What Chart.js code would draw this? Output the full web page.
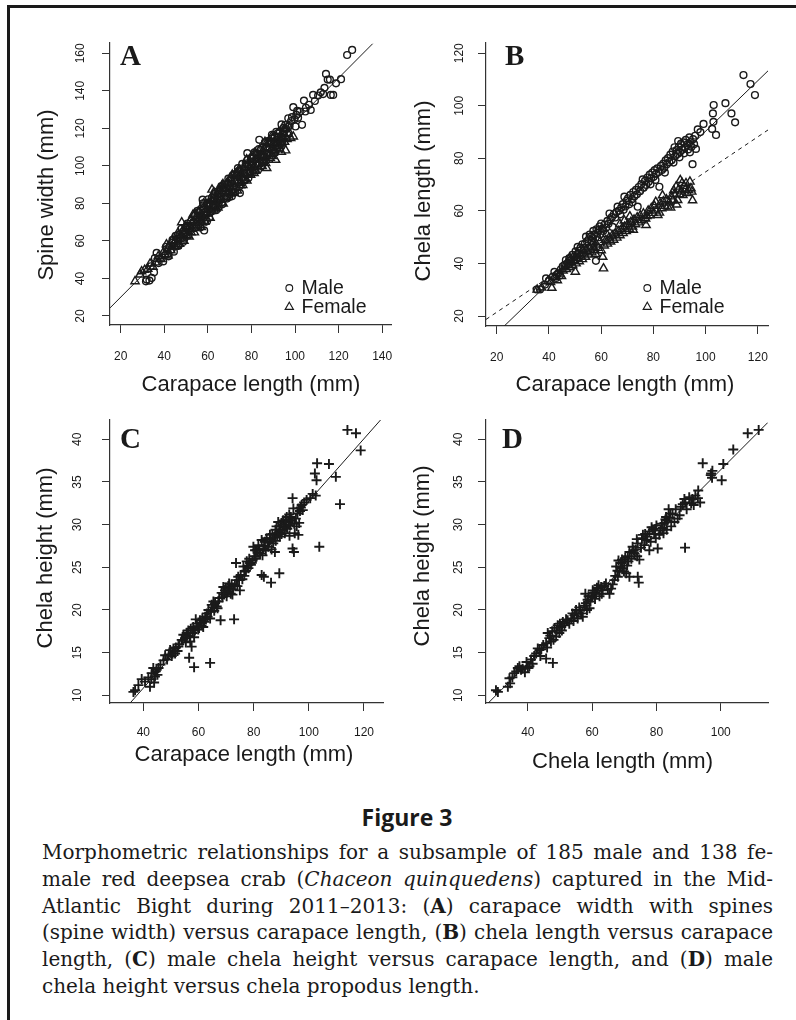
<!DOCTYPE html>
<html>
<head>
<meta charset="utf-8">
<script src="https://cdn.jsdelivr.net/npm/chart.js@4.4.1/dist/chart.umd.min.js"></script>
<style>
  body { margin: 0; background: #fff; width: 796px; height: 1020px; position: relative; overflow: hidden; }
  .rule-top { position: absolute; left: 7px; top: 5px; width: 789px; height: 3px; background: #1a1a1a; }
  .rule-left { position: absolute; left: 7px; top: 5px; width: 3px; height: 1015px; background: #1a1a1a; }
  canvas { position: absolute; }
  #figTitle { position: absolute; left: 307px; top: 802px; width: 200px; text-align: center;
    font: bold 23px "Open Sans", sans-serif; line-height: 30px; color: #1a1a1a; }
  #caption { position: absolute; left: 42px; top: 839px; width: 731px; color: #1a1a1a;
    font-family: "DejaVu Serif", serif; font-size: 20px; line-height: 26.8px; }
  #caption .ln { text-align: justify; text-align-last: justify; white-space: nowrap; }
  #caption .last { white-space: nowrap; }
</style>
</head>
<body>
<div class="rule-top"></div>
<div class="rule-left"></div>
<canvas id="pA" width="398" height="400" style="left:0;top:0"></canvas>
<canvas id="pB" width="398" height="400" style="left:398px;top:0"></canvas>
<canvas id="pC" width="398" height="380" style="left:0;top:400px"></canvas>
<canvas id="pD" width="398" height="380" style="left:398px;top:400px"></canvas>
<div id="figTitle">Figure 3</div>
<div id="caption">
  <div class="ln">Morphometric relationships for a subsample of 185 male and 138 fe-</div>
  <div class="ln">male red deepsea crab (<i>Chaceon quinquedens</i>) captured in the Mid-</div>
  <div class="ln">Atlantic Bight during 2011–2013: (<b>A</b>) carapace width with spines</div>
  <div class="ln">(spine width) versus carapace length, (<b>B</b>) chela length versus carapace</div>
  <div class="ln">length, (<b>C</b>) male chela height versus carapace length, and (<b>D</b>) male</div>
  <div class="last">chela height versus chela propodus length.</div>
</div>
<script>
// tick labels
const aXTicks = [20, 40, 60, 80, 100, 120, 140];
const aYTicks = [20, 40, 60, 80, 100, 120, 140, 160];
const bXTicks = [20, 40, 60, 80, 100, 120];
const bYTicks = [20, 40, 60, 80, 100, 120];
const cXTicks = [40, 60, 80, 100, 120];
const cYTicks = [10, 15, 20, 25, 30, 35, 40];
const dXTicks = [40, 60, 80, 100];
const dYTicks = [10, 15, 20, 25, 30, 35, 40];

// A: spine width vs carapace length  [CL, SW]
const aMale = [[31.6,38.5],[31.9,39.4],[33.2,38.9],[34.2,40.3],[35.3,43.3],[33.8,46.5],[35.7,50.9],[36.5,53.6],[37.4,48.2],[38.1,50.6],[39.5,49.1],[40.2,52.4],[41.1,55.7],[41.8,53.1],[42.5,57.3],[43.3,55.4],[44.0,59.2],[44.7,57.0],[40.8,56.9],[42.0,51.8],[43.8,60.6],[44.4,54.3],
  [45.2,62.7],[45.6,57.8],[46.1,61.3],[46.5,57.3],[47.0,63.5],[47.4,61.5],[47.9,66.5],[48.3,61.6],[48.8,63.9],[49.2,61.2],[49.7,67.1],[50.1,64.2],[50.6,69.3],[51.0,62.9],[51.5,68.1],[51.9,65.4],[52.4,70.6],[52.8,68.2],[53.3,70.0],[53.7,66.8],[54.2,73.7],[54.6,67.2],[54.9,71.3],[50.4,67.5],[48.6,59.5],
  [55.3,76.1],[55.7,68.6],[56.1,73.4],[56.5,67.1],[56.9,76.0],[57.3,72.9],[57.8,80.1],[58.2,72.4],[58.6,75.4],[59.0,71.2],[59.4,79.6],[59.8,75.0],[60.2,82.2],[60.6,72.4],[61.0,79.9],[61.4,75.6],[61.8,82.9],[62.2,79.1],[62.6,81.4],[63.0,76.3],[63.4,86.2],[63.8,76.4],[64.2,82.5],[64.6,85.1],[59.6,70.5],[61.9,81.4],[56.2,71.1],[57.6,82.0],[58.3,65.6],[63.2,85.1],
  [55.9,75.3],[57.0,70.4],[58.0,77.6],[59.2,73.8],[60.0,80.3],[60.8,74.9],[62.0,76.1],[62.8,83.3],[63.6,78.6],[64.4,84.6],[65.0,80.2],
  [65.0,78.2],[65.4,86.7],[65.8,82.0],[66.2,89.2],[66.6,79.5],[67.0,86.9],[67.4,82.6],[67.8,89.9],[68.2,86.1],[68.6,88.4],[69.0,83.4],[69.4,93.2],[69.8,83.4],[70.2,89.5],[70.6,92.1],[71.0,83.8],[71.4,94.9],[71.8,87.4],[72.2,92.2],[72.6,85.9],[73.0,94.8],[73.4,91.7],[73.8,98.8],[74.2,91.1],[74.6,94.1],[68.8,82.6],[74.7,85.5],
  [65.6,87.9],[66.4,80.6],[67.6,88.7],[69.2,90.8],[70.0,84.9],[70.8,93.5],[71.6,86.1],[72.4,95.6],[73.2,88.4],[74.0,97.2],[74.4,89.0],
  [75.0,97.2],[75.4,94.0],[75.8,101.1],[76.2,93.5],[76.6,96.4],[77.0,92.2],[77.4,100.7],[77.8,96.0],[78.2,103.2],[78.6,93.5],[79.0,100.9],[79.4,96.6],[79.8,104.0],[80.2,100.1],[80.6,102.4],[81.0,97.4],[81.4,107.2],[81.8,97.4],[82.2,103.5],[82.6,106.1],[83.0,97.8],[83.4,108.9],[83.8,101.4],[84.2,106.2],[84.6,99.9],[79.6,102.0],[82.0,101.2],[84.0,105.4],[78.1,106.8],[83.6,113.9],
  [75.6,98.6],[76.8,92.9],[78.0,101.4],[79.2,95.8],[80.4,104.9],[81.2,98.1],[82.4,106.8],[83.2,100.2],[84.4,108.7],[85.0,102.0],
  [85.2,101.8],[85.4,110.0],[85.8,105.4],[86.2,112.5],[86.6,102.8],[87.0,110.3],[87.4,105.9],[87.8,113.3],[88.2,109.5],[88.6,111.7],[89.0,106.7],[89.4,116.6],[89.8,106.8],[90.2,112.8],[90.6,115.5],[91.0,107.2],[91.4,118.2],[91.8,110.8],[92.2,115.6],[92.6,109.2],[93.0,118.2],[93.4,115.1],[93.8,122.1],[94.2,114.5],[94.6,117.5],[88.4,112.5],[91.6,112.8],[94.0,112.5],
  [86.0,104.6],[87.2,111.9],[88.0,106.2],[89.6,114.6],[90.4,108.7],[92.0,117.3],[93.2,111.6],[94.8,120.4],
  [95.0,118.3],[95.5,121.8],[96.0,119.6],[96.9,125.4],[97.5,121.2],[98.2,123.9],[99.2,131.3],[99.8,124.8],[100.6,127.2],[101.4,125.6],[102.2,128.9],[103.2,121.9],[104.1,134.8],[105.0,131.0],[106.4,132.6],[107.2,129.8],[108.3,137.8],[109.1,134.6],[110.6,137.5],[104.7,129.0],
  [95.8,114.8],[97.0,117.4],[98.6,126.0],[100.2,121.0],[101.0,129.3],
  [111.8,139.2],[112.9,138.3],[114.2,149.0],[115.0,146.0],[116.0,146.0],[116.4,137.8],[117.5,137.8],[118.8,144.0],[121.1,146.2],[123.9,159.1],[126.2,161.8],[113.5,141.6]];
const aFemale = [[26.6,38.5],[28.9,42.1],[29.6,43.8],[31.0,44.6],[32.4,45.1],[33.5,47.9],[34.8,46.2],[36.0,48.5],[37.2,51.8],[38.5,50.3],[39.6,54.0],
  [40.4,52.9],[41.0,58.1],[41.7,52.1],[42.3,57.4],[43.0,55.0],[43.6,60.3],[44.3,58.3],[45.0,60.3],[45.7,57.4],[46.3,64.4],[47.0,58.4],[47.6,62.8],[48.3,65.1],[49.0,60.0],[49.6,67.8],[48.0,69.9],
  [50.2,63.1],[50.8,66.3],[51.4,62.3],[52.0,71.0],[52.6,66.6],[53.2,74.0],[53.8,64.5],[54.4,72.2],[55.0,68.1],[55.6,75.7],[56.2,72.1],[56.8,74.6],[57.4,69.8],[58.0,79.9],[58.6,70.3],[59.2,76.6],[59.8,79.5],[57.0,67.4],[54.0,74.5],[52.3,64.6],
  [60.4,78.4],[61.0,72.3],[61.6,81.5],[62.2,78.6],[62.8,85.9],[63.4,78.5],[64.0,81.7],[64.6,77.7],[65.2,86.4],[65.8,82.0],[66.4,89.4],[67.0,79.9],[67.6,87.6],[68.2,83.5],[68.8,91.1],[69.4,87.5],[70.0,90.0],[63.7,77.2],[66.9,90.3],[61.9,87.3],[69.1,91.0],
  [70.6,85.2],[71.2,95.3],[71.8,85.7],[72.4,92.0],[73.0,94.9],[73.6,86.8],[74.2,98.1],[74.8,90.9],[75.4,95.9],[76.0,89.8],[76.6,99.0],[77.2,96.1],[77.8,103.4],[78.4,96.0],[79.0,99.2],[79.6,95.2],[72.0,85.6],[75.0,89.6],[77.9,92.2],[73.3,95.9],
  [80.2,103.9],[80.8,99.5],[81.4,106.9],[82.0,97.4],[82.6,105.1],[83.2,101.0],[83.8,108.6],[84.4,105.0],[85.0,107.5],[85.6,102.7],[86.2,112.8],[86.8,103.2],[87.4,109.5],[88.0,112.4],[88.6,104.3],[89.2,115.6],[89.8,108.4],[81.2,96.1],[84.9,99.9],[86.5,101.5],[89.5,105.2],[87.0,98.8],
  [90.4,108.1],[91.0,111.9],[91.1,103.2],[91.6,109.4],[92.2,113.0],[92.8,110.6],[93.4,114.2],[94.0,111.9],[94.6,115.1],[95.2,112.8],[95.7,108.2],[96.3,114.3],[97.0,116.9],[98.0,114.8],[99.2,115.6],[93.7,107.4],[90.0,114.9],[92.5,118.0],[95.0,119.6],[96.8,121.5]];
const aFit = [[15.1, 24.3], [135.6, 165.1]];

// B: chela length vs carapace length  [CL, ChL]
const bMale = [[35.3,30.1],[36.6,30.1],[38.5,32.0],[38.9,34.3],[40.0,33.5],[41.5,35.0],[42.8,34.5],[42.1,36.8],[43.5,36.2],[44.2,35.4],[44.6,37.8],[43.0,35.6],
  [45.3,38.9],[46.5,41.3],[46.0,39.5],[47.2,40.1],[47.8,42.0],[48.4,41.2],[49.0,43.3],[49.6,42.5],[50.2,44.6],[51.0,46.3],[51.5,44.9],[52.1,46.0],[52.8,47.3],[53.4,45.8],[54.2,50.2],[54.6,48.4],[53.8,47.6],[50.7,43.4],
  [55.2,49.1],[55.6,51.0],[56.1,50.3],[56.5,48.6],[57.0,52.4],[57.4,50.9],[58.0,41.0],[58.2,53.0],[58.6,51.6],[59.0,52.7],[59.4,54.1],[60.0,55.2],[60.3,53.2],[60.8,52.4],[61.3,54.8],[61.9,53.6],[62.4,56.2],[62.8,55.1],[63.2,59.0],[63.6,56.8],[64.1,57.6],[64.4,53.9],[64.9,58.8],[59.7,51.1],[56.8,49.6],
  [65.4,57.5],[65.9,59.6],[66.3,61.6],[66.8,60.1],[67.3,58.7],[67.7,61.3],[68.3,62.6],[68.9,65.4],[69.3,61.7],[69.8,63.9],[70.3,64.8],[70.7,62.5],[71.2,66.1],[71.8,64.4],[72.3,67.2],[72.7,65.5],[73.3,68.0],[73.7,66.3],[74.0,61.6],[74.4,69.1],[74.9,67.5],[72.0,63.3],[68.6,60.4],
  [75.4,70.2],[75.9,72.0],[76.3,68.8],[76.8,71.4],[77.3,69.9],[77.7,72.7],[78.2,71.1],[78.6,73.8],[79.1,72.4],[79.6,74.6],[80.1,73.0],[80.5,75.5],[81.0,74.1],[81.5,76.2],[82.0,74.8],[82.3,69.2],[82.9,77.1],[83.3,75.6],[83.8,78.0],[84.2,76.4],[84.7,79.2],[80.8,71.8],[78.9,70.1],[84.4,74.6],
  [85.2,77.8],[85.6,80.1],[86.1,78.6],[86.5,81.4],[87.0,79.3],[87.4,82.6],[88.1,84.2],[88.4,80.9],[88.9,83.1],[89.3,81.7],[89.8,84.5],[90.2,82.4],[90.6,85.6],[91.1,83.3],[91.5,86.1],[92.0,84.0],[92.4,87.0],[92.9,85.1],[93.3,83.4],[93.8,88.0],[94.2,86.2],[94.6,84.4],[95.0,77.8],[95.2,87.3],[95.6,85.4],[96.0,88.6],[96.3,83.6],[90.0,80.4],[87.7,78.4],[91.8,81.9],[94.0,82.3],[89.5,86.6],
  [97.0,91.0],[98.0,90.0],[99.2,93.1],[102.5,91.2],[102.8,97.1],[103.0,93.9],[103.1,100.3],[104.0,88.9],[107.6,101.0],[109.9,97.1],[111.3,93.7],[114.5,111.7],[117.2,108.3],[118.9,104.1]];
const bFemale = [[35.5,30.0],[37.2,30.8],[41.1,30.7],[39.5,33.2],[42.0,34.8],[43.2,33.6],[44.1,36.1],[44.8,35.2],[40.6,32.9],
  [45.4,37.3],[46.0,38.9],[46.7,37.8],[47.3,39.6],[47.9,38.5],[48.5,40.4],[49.1,39.3],[49.7,41.2],[50.1,36.8],[50.4,40.0],[51.0,42.1],[51.6,40.8],[52.2,43.0],[52.8,41.6],[53.4,43.8],[54.0,42.5],[54.6,44.6],[53.1,45.0],[50.8,43.6],[48.0,42.2],
  [55.2,43.4],[55.8,45.6],[56.4,44.2],[57.0,46.3],[57.6,45.1],[58.2,47.2],[58.8,45.9],[59.4,48.1],[60.0,45.0],[60.6,42.5],[60.9,38.1],[61.2,46.8],[61.8,48.9],[62.4,47.5],[63.0,49.8],[63.6,48.3],[64.2,50.6],[64.8,49.0],[59.0,49.6],[56.8,47.9],[62.1,51.2],[57.9,43.6],
  [65.4,51.4],[66.0,49.8],[66.6,52.3],[67.2,50.7],[67.2,55.0],[67.8,53.1],[68.4,51.5],[69.0,54.0],[69.6,52.3],[70.2,55.0],[70.8,53.2],[71.4,55.8],[72.0,54.0],[72.3,52.8],[72.6,56.7],[73.2,54.9],[73.8,57.5],[74.4,55.6],[75.0,58.3],[71.0,57.9],[68.9,56.3],
  [75.6,56.4],[76.2,59.0],[76.8,57.2],[77.2,54.6],[77.0,57.1],[77.5,58.0],[78.0,60.1],[78.6,58.3],[79.2,61.0],[79.8,59.2],[80.4,61.9],[81.0,60.1],[81.7,58.4],[82.3,59.3],[82.6,62.8],[83.2,61.0],[83.8,63.6],[84.4,61.9],[85.0,64.4],[85.5,61.6],[80.9,63.4],[83.5,65.9],
  [86.1,63.2],[86.6,61.2],[86.9,65.5],[87.4,63.9],[88.0,66.4],[88.7,69.2],[88.9,62.4],[89.3,64.1],[89.6,68.1],[90.0,66.3],[90.3,71.7],[90.8,67.4],[91.3,66.0],[91.7,69.5],[92.2,68.1],[92.5,70.5],[93.0,66.8],[93.4,68.0],[94.0,71.1],[94.4,68.6],[94.7,67.3],[95.0,64.0],[87.8,67.8],[91.0,70.6]];
const bFitMale = [[22.9, 16.2], [123.9, 113.3]];
const bFitFemale = [[15.9, 18.7], [123.9, 90.8]];

// C: male chela height vs carapace length  [CL, ChH]
const cMale = [[36.4,10.4],[37.0,10.6],[38.2,11.2],[39.4,11.9],[40.6,11.6],[41.8,12.1],[42.4,11.0],[42.9,11.9],[43.0,12.6],[43.6,13.2],[43.9,11.5],[44.2,12.2],[44.5,12.8],[44.8,13.0],[45.1,12.4],[45.5,13.2],[46.2,13.6],[47.3,14.1],[47.9,14.7],[48.6,14.2],[49.2,14.8],[49.7,15.3],[50.3,14.6],[50.6,14.9],[50.9,15.5],[51.5,14.9],[51.8,15.6],[52.4,15.2],[52.7,15.7],[53.0,16.0],
  [53.9,16.5],[54.2,16.4],[54.5,17.1],[55.1,16.7],[55.4,16.2],[55.7,17.3],[56.0,17.0],[56.3,17.6],[56.6,14.4],[56.9,16.9],[57.0,16.3],[57.2,17.8],[57.5,15.7],[57.8,17.3],[58.1,18.0],[58.4,13.3],[58.4,16.8],[58.7,17.6],[59.0,18.9],[59.3,18.4],[59.6,18.1],[59.9,17.7],[60.2,17.9],[60.5,18.8],[60.8,18.5],[61.1,18.2],[61.4,19.0],[61.7,18.0],[62.0,18.6],[62.4,19.2],
  [62.7,18.9],[63.0,19.6],[63.3,19.2],[63.6,20.0],[64.2,19.0],[64.2,13.8],[64.5,19.8],[64.8,20.6],[65.1,20.3],[65.4,21.0],[65.7,19.9],[66.0,20.8],[66.6,20.4],[66.9,20.2],[67.2,21.0],[67.5,21.4],[68.0,18.8],[68.4,22.0],[68.7,21.5],[69.0,22.7],[69.3,21.8],[69.6,22.3],[69.9,22.6],[70.2,21.6],[70.5,22.1],[70.8,22.8],[71.1,23.1],[71.4,22.5],[71.7,21.9],[72.0,23.0],
  [72.3,21.8],[72.6,22.4],[72.9,18.9],[73.2,22.9],[73.6,25.5],[73.8,23.5],[74.1,22.8],[74.4,23.9],[74.7,23.5],[75.0,22.3],[75.3,24.1],[75.9,23.6],[76.3,25.1],[76.6,24.0],[76.8,24.5],[77.2,24.6],[77.5,25.7],[77.8,25.2],[78.1,24.9],[78.4,26.0],[78.7,25.5],[79.0,25.3],[79.6,25.8],[79.9,27.4],[80.2,26.3],[80.5,27.0],[80.8,26.0],[81.1,27.0],[81.4,26.7],[81.7,27.6],
  [82.0,27.1],[82.3,26.6],[82.9,28.2],[82.9,24.1],[83.2,26.4],[83.5,27.2],[83.7,23.9],[83.8,27.5],[84.1,28.0],[84.4,27.0],[84.7,28.4],[85.0,28.0],[85.3,27.4],[85.6,27.9],[85.9,28.8],[86.2,28.3],[86.3,23.2],[86.5,27.1],[86.8,28.9],[87.1,27.8],[87.4,28.5],[87.7,26.8],[87.9,29.4],[88.0,28.1],[88.3,29.8],[88.3,29.0],[88.6,28.7],[88.9,30.3],[89.2,29.1],[89.3,24.3],
  [89.5,29.4],[89.5,28.6],[89.8,29.8],[90.1,30.2],[90.1,28.9],[90.4,29.3],[90.7,30.5],[91.0,30.0],[91.3,29.8],[91.3,29.0],[91.6,30.6],[91.9,29.7],[92.0,30.9],[92.2,29.5],[92.6,30.3],[92.9,31.2],[93.0,28.7],[93.2,29.9],[93.5,30.9],[93.8,30.5],[94.1,27.2],[94.1,33.1],[94.4,31.9],[94.6,26.8],[94.7,30.1],[94.9,29.0],[95.3,30.7],[95.6,29.8],[95.9,31.3],[96.2,28.8],
  [96.2,31.9],[96.5,30.2],[96.8,31.6],[97.1,32.0],[97.4,32.3],[97.8,31.7],[98.3,32.6],[99.2,32.9],[100.5,33.1],[101.4,33.6],[102.2,36.0],[102.5,33.4],[102.8,35.2],[103.0,37.2],[103.8,27.4],[107.3,37.1],[109.8,35.6],[111.3,32.4],[114.0,41.1],[117.1,40.7],[118.8,38.7]];
const cFit = [[35.2, 9.1], [126.0, 42.26]];

// D: male chela height vs chela length  [ChL, ChH]
const dMale = [[30.1,10.6],[30.7,10.4],[33.8,11.0],[34.3,12.0],[34.5,11.4],[35.2,12.1],[35.8,12.6],[36.4,12.8],[36.9,13.2],[37.4,13.4],[37.9,13.0],[38.4,13.1],[39.1,12.7],[39.6,13.9],[40.0,13.2],[40.5,13.4],[41.0,14.2],[41.5,13.7],[42.0,14.6],[42.6,14.9],[43.1,15.5],[43.6,15.3],[43.9,14.6],[44.2,15.4],[44.8,15.9],[45.7,14.3],[45.7,16.1],[46.0,15.6],[46.2,17.3],[46.7,16.7],
  [47.0,17.0],[47.2,16.3],[47.6,17.5],[47.8,13.8],[48.0,16.5],[48.3,17.9],[48.8,16.9],[49.0,17.6],[49.3,18.2],[49.8,17.3],[50.0,18.4],[50.4,18.0],[50.6,17.6],[50.9,18.6],[51.4,18.2],[51.9,18.9],[52.4,18.8],[52.9,18.4],[53.5,19.0],[53.9,19.6],[54.2,18.7],[54.5,19.4],[55.0,20.0],[55.2,19.6],[55.5,19.0],[56.0,20.3],[56.3,19.9],[56.6,19.6],[57.1,19.2],[57.5,20.5],
  [57.9,21.9],[58.1,20.8],[58.4,20.0],[58.6,21.2],[58.9,21.6],[59.2,20.2],[59.5,21.0],[59.7,21.6],[60.0,21.5],[60.2,22.3],[60.6,22.0],[60.9,21.3],[61.2,21.9],[61.5,22.6],[61.8,22.5],[62.0,22.9],[62.3,21.6],[62.8,22.7],[63.0,21.9],[63.3,22.3],[63.8,22.8],[64.3,23.1],[64.9,22.4],[65.4,21.9],[65.9,22.5],[66.4,23.0],[66.9,23.5],[67.2,24.0],[67.5,25.1],[67.9,24.6],
  [68.0,23.9],[68.2,25.8],[68.5,24.5],[68.8,25.0],[69.0,25.5],[69.3,25.9],[69.5,24.9],[69.9,24.5],[70.0,25.7],[70.3,26.1],[70.6,24.3],[70.9,25.2],[71.1,26.3],[71.3,25.7],[71.6,23.9],[71.6,26.8],[72.2,26.0],[72.6,27.4],[72.9,27.0],[73.2,26.6],[73.6,27.1],[73.9,28.3],[74.0,26.3],[74.2,27.8],[74.2,23.9],[74.5,23.2],[74.7,25.9],[75.2,27.3],[75.5,28.4],[75.8,28.8],
  [76.2,27.6],[76.5,28.9],[76.8,28.2],[77.2,28.6],[77.8,29.2],[77.8,27.0],[78.2,28.0],[78.5,29.7],[78.9,29.4],[79.3,28.9],[79.6,29.5],[79.8,28.4],[80.0,29.9],[80.4,27.2],[80.9,28.8],[81.3,29.3],[81.7,30.1],[82.0,29.6],[82.2,29.0],[82.5,30.2],[82.8,30.6],[83.0,30.9],[83.2,29.4],[83.5,30.5],[83.8,31.8],[84.0,30.8],[84.3,31.3],[84.6,29.8],[85.0,31.2],[85.6,30.3],
  [86.0,31.8],[86.6,30.7],[87.2,31.1],[87.6,32.1],[88.2,32.4],[88.7,33.0],[88.9,27.3],[89.0,32.6],[89.4,31.8],[90.2,33.2],[90.8,32.5],[91.2,33.0],[91.6,32.3],[92.1,33.4],[92.9,33.1],[93.0,34.0],[93.6,32.6],[94.4,37.2],[96.9,35.8],[97.0,36.0],[97.3,35.5],[97.4,36.3],[100.3,35.2],[100.8,37.1],[103.9,38.8],[108.4,40.7],[111.8,41.1]];
const dFit = [[27.7, 9.1], [114.6, 41.95]];

const INK = '#1a1a1a';
const SANS = '"Liberation Sans", Arial, Helvetica, sans-serif';
const MARK = {
  circle: { r: 3.4, bw: 1.4 },
  triangle: { r: 4.8, bw: 1.4 },
  cross: { r: 5, bw: 1.9 }
};

Chart.defaults.font.family = SANS;

const panels = [
  { id: 'pA', w: 398, h: 400, area: { left: 110, top: 43, right: 392, bottom: 325 },
    xRange: [15.1, 144.4], yRange: [15.2, 165.5], xTicks: aXTicks, yTicks: aYTicks, xTickPad: 16,
    xTitle: 'Carapace length (mm)', yTitle: 'Spine width (mm)', letter: 'A',
    xTitlePos: [251, 385], yTitlePos: [47, 195], yLabX: 81, letterPos: [120, 65],
    legend: { markerX: 289.3, textX: 301.5, rows: [288, 307] },
    series: [{ pts: aMale, style: 'circle' }, { pts: aFemale, style: 'triangle' }],
    fits: [{ pts: aFit }] },
  { id: 'pB', w: 398, h: 400, area: { left: 88, top: 43, right: 370, bottom: 326 },
    xRange: [15.9, 123.9], yRange: [16.2, 123.9], xTicks: bXTicks, yTicks: bYTicks, xTickPad: 16,
    xTitle: 'Carapace length (mm)', yTitle: 'Chela length (mm)', letter: 'B',
    xTitlePos: [227, 385], yTitlePos: [26, 191], yLabX: 62, letterPos: [107, 65],
    legend: { markerX: 249.3, textX: 261.5, rows: [288, 307] },
    series: [{ pts: bMale, style: 'circle' }, { pts: bFemale, style: 'triangle' }],
    fits: [{ pts: bFitMale }, { pts: bFitFemale, dash: [4, 4] }] },
  { id: 'pC', w: 398, h: 380, area: { left: 110, top: 20, right: 383, bottom: 303 },
    xRange: [27.9, 126.9], yRange: [9.1, 42.26], xTicks: cXTicks, yTicks: cYTicks, xTickPad: 14.5,
    xTitle: 'Carapace length (mm)', yTitle: 'Chela height (mm)', letter: 'C',
    xTitlePos: [244, 355], yTitlePos: [46, 158], yLabX: 78, letterPos: [120, 47.5],
    series: [{ pts: cMale, style: 'cross' }],
    fits: [{ pts: cFit }] },
  { id: 'pD', w: 398, h: 380, area: { left: 88, top: 20, right: 370, bottom: 303 },
    xRange: [27.0, 114.7], yRange: [9.1, 42.26], xTicks: dXTicks, yTicks: dYTicks, xTickPad: 14.5,
    xTitle: 'Chela length (mm)', yTitle: 'Chela height (mm)', letter: 'D',
    xTitlePos: [224.5, 362], yTitlePos: [24.5, 156], yLabX: 61, letterPos: [104, 48],
    series: [{ pts: dMale, style: 'cross' }],
    fits: [{ pts: dFit }] }
];

const toXY = pts => pts.map(p => ({ x: p[0], y: p[1] }));

function drawMarker(ctx, style, x, y) {
  const m = MARK[style];
  ctx.lineWidth = 1.1;
  ctx.beginPath();
  if (style === 'circle') {
    ctx.arc(x, y, m.r, 0, Math.PI * 2);
  } else if (style === 'triangle') {
    for (let i = 0; i < 3; i++) {
      const a = i * 2 * Math.PI / 3;
      const px = x + Math.sin(a) * m.r, py = y - Math.cos(a) * m.r;
      if (i === 0) ctx.moveTo(px, py); else ctx.lineTo(px, py);
    }
    ctx.closePath();
  }
  ctx.stroke();
}

// R-like decorations: rotated y labels, titles, panel letter, legend
function drawDecor(chart, p) {
  const ctx = chart.ctx;
  const ys = chart.scales.y;
  ctx.save();
  ctx.fillStyle = INK;
  ctx.strokeStyle = INK;
  ctx.textAlign = 'center';
  ctx.textBaseline = 'middle';

  ctx.font = '12px ' + SANS;
  p.yTicks.forEach(v => {
    ctx.save();
    ctx.translate(p.yLabX, ys.getPixelForValue(v));
    ctx.rotate(-Math.PI / 2);
    ctx.fillText(String(v), 0, 0);
    ctx.restore();
  });

  ctx.font = '22px ' + SANS;
  ctx.fillText(p.xTitle, p.xTitlePos[0], p.xTitlePos[1]);
  ctx.save();
  ctx.translate(p.yTitlePos[0], p.yTitlePos[1]);
  ctx.rotate(-Math.PI / 2);
  ctx.fillText(p.yTitle, 0, 0);
  ctx.restore();

  ctx.font = 'bold 29px "Liberation Serif", serif';
  ctx.textAlign = 'left';
  ctx.textBaseline = 'alphabetic';
  ctx.fillText(p.letter, p.letterPos[0], p.letterPos[1]);

  if (p.legend) {
    const lg = p.legend;
    ctx.font = '19.5px ' + SANS;
    ctx.textBaseline = 'middle';
    drawMarker(ctx, 'circle', lg.markerX, lg.rows[0]);
    ctx.fillText('Male', lg.textX, lg.rows[0] + 0.5);
    drawMarker(ctx, 'triangle', lg.markerX, lg.rows[1]);
    ctx.fillText('Female', lg.textX, lg.rows[1] + 0.5);
  }
  ctx.restore();
}

function axisStyle() {
  return {
    grid: { display: true, drawOnChartArea: false, drawTicks: true, tickLength: 8, tickColor: '#333', tickWidth: 1 },
    border: { display: true, color: '#333', width: 1.2 }
  };
}

function makePanel(p) {
  const datasets = [];
  p.fits.forEach(f => datasets.push({
    data: toXY(f.pts), showLine: true, pointRadius: 0, borderColor: INK,
    borderWidth: 1, borderDash: f.dash || [], order: 0
  }));
  p.series.forEach(s => datasets.push({
    data: toXY(s.pts), pointStyle: s.style, pointRadius: MARK[s.style].r,
    borderWidth: MARK[s.style].bw, borderColor: INK, backgroundColor: 'rgba(0,0,0,0)', order: 1
  }));

  new Chart(document.getElementById(p.id), {
    type: 'scatter',
    data: { datasets },
    options: {
      responsive: false,
      animation: false,
      events: [],
      devicePixelRatio: 1,
      layout: { padding: { left: 0, top: p.area.top, right: p.w - p.area.right, bottom: 0 } },
      plugins: { legend: { display: false }, tooltip: { enabled: false } },
      scales: {
        x: Object.assign(axisStyle(), {
          type: 'linear', position: 'bottom', min: p.xRange[0], max: p.xRange[1],
          afterBuildTicks: s => { s.ticks = p.xTicks.map(v => ({ value: v })); },
          afterFit: s => { s.height = p.h - p.area.bottom; s.paddingLeft = 0; s.paddingRight = 0; },
          ticks: { color: INK, font: { size: 12 }, padding: p.xTickPad, autoSkip: false,
                   maxRotation: 0, callback: v => String(v) }
        }),
        y: Object.assign(axisStyle(), {
          type: 'linear', position: 'left', min: p.yRange[0], max: p.yRange[1],
          afterBuildTicks: s => { s.ticks = p.yTicks.map(v => ({ value: v })); },
          afterFit: s => { s.width = p.area.left; s.paddingTop = 0; s.paddingBottom = 0; },
          ticks: { display: false }
        })
      }
    },
    plugins: [{ id: 'decor', afterDraw: chart => drawDecor(chart, p) }]
  });
}

panels.forEach(makePanel);
</script>
</body>
</html>
